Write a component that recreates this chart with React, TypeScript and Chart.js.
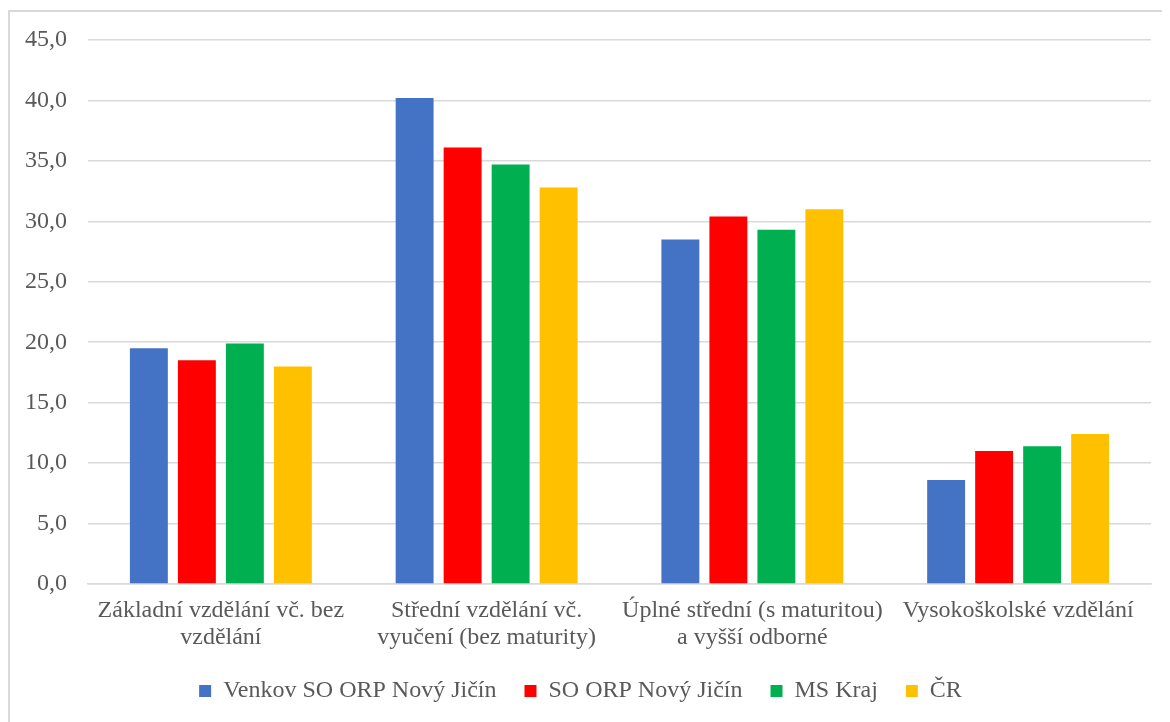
import React, { useEffect, useRef } from "react";
import { Chart, registerables } from "chart.js";

Chart.register(...registerables);

const categories: string[][] = [
  ["Základní vzdělání vč. bez", "vzdělání"],
  ["Střední vzdělání vč.", "vyučení (bez maturity)"],
  ["Úplné střední (s maturitou)", "a vyšší odborné"],
  ["Vysokoškolské vzdělání"],
];

const seriesNames = ["Venkov SO ORP Nový Jičín", "SO ORP Nový Jičín", "MS Kraj", "ČR"];
const venkov = [19.5, 40.2, 28.5, 8.6];
const soOrp = [18.5, 36.1, 30.4, 11.0];
const msKraj = [19.9, 34.7, 29.3, 11.4];
const cr = [18.0, 32.8, 31.0, 12.4];
const seriesColors = ["#4472C4", "#FF0000", "#00B050", "#FFC000"];

const yMin = 0;
const yMax = 45;
const yStep = 5;

const FONT = "'Liberation Serif', 'Times New Roman', serif";
const TEXT = "#595959";
const GRID = "#d9d9d9";

export default function App() {
  const ref = useRef<HTMLCanvasElement | null>(null);

  useEffect(() => {
    if (!ref.current) return;
    const values = [venkov, soOrp, msKraj, cr];
    const chart = new Chart(ref.current, {
      type: "bar",
      data: {
        labels: categories,
        datasets: values.map((v, i) => ({
          label: seriesNames[i],
          data: v,
          backgroundColor: seriesColors[i],
          borderWidth: 0,
          categoryPercentage: 0.7225,
          barPercentage: 0.79,
        })),
      },
      options: {
        animation: false,
        responsive: true,
        maintainAspectRatio: false,
        layout: { padding: { top: 28, right: 19, left: 0, bottom: 9 } },
        plugins: {
          tooltip: { enabled: false },
          legend: {
            position: "bottom",
            labels: {
              boxWidth: 12,
              boxHeight: 12,
              padding: 28,
              color: TEXT,
              font: { family: FONT, size: 24 },
            },
          },
        },
        scales: {
          x: {
            grid: { display: false, drawTicks: false },
            border: { display: true, color: GRID, width: 1.5 },
            ticks: {
              color: TEXT,
              font: { family: FONT, size: 24, lineHeight: 1.1 },
              padding: 14,
              maxRotation: 0,
              minRotation: 0,
              autoSkip: false,
            },
            afterFit: (scale: any) => {
              scale.height = 67;
            },
          },
          y: {
            min: yMin,
            max: yMax,
            grid: { color: GRID, lineWidth: 1.5, drawTicks: false },
            border: { display: false },
            ticks: {
              stepSize: yStep,
              color: TEXT,
              font: { family: FONT, size: 24 },
              padding: 21,
              callback: (v: any) => Number(v).toFixed(1).replace(".", ","),
            },
            afterFit: (scale: any) => {
              scale.width = 78;
              scale.paddingTop = 0;
              scale.paddingBottom = 0;
            },
          },
        },
      },
    });
    return () => chart.destroy();
  }, []);

  return (
    <div style={{ paddingTop: 2 }}>
      <div
        style={{
          width: 1162,
          height: 712,
          borderTop: "2px solid #d9d9d9",
          borderLeft: "2px solid #d9d9d9",
          boxSizing: "border-box",
          background: "#fff",
        }}
      >
        <div style={{ position: "relative", width: 1160, height: 710 }}>
          <canvas ref={ref} />
        </div>
      </div>
    </div>
  );
}
